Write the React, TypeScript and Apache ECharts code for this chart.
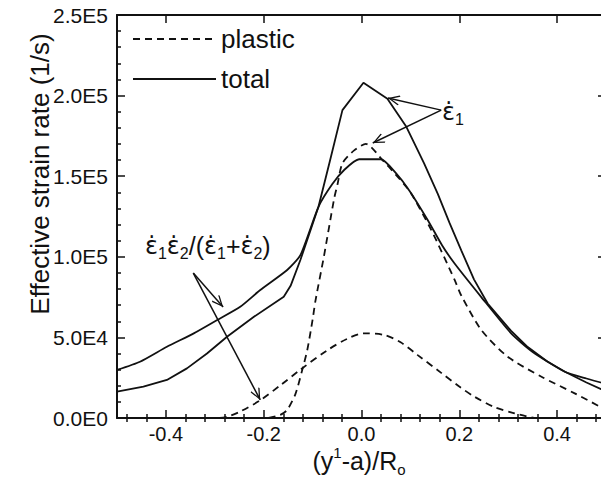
import React, { useEffect, useRef } from 'react';
import * as echarts from 'echarts';

// ---- tick values and labels ----
const xTicks = [-0.4, -0.2, 0, 0.2, 0.4];
const xTickLabels = ['-0.4', '-0.2', '0.0', '0.2', '0.4'];
const xMinorTicks = [-0.48, -0.44, -0.36, -0.32, -0.28, -0.24, -0.16, -0.12, -0.08, -0.04,
  0.04, 0.08, 0.12, 0.16, 0.24, 0.28, 0.32, 0.36, 0.44, 0.48];
const yTicks = [0, 50000, 100000, 150000, 200000, 250000];
const yTickLabels = ['0.0E0', '5.0E4', '1.0E5', '1.5E5', '2.0E5', '2.5E5'];

// ---- series: epsilon_1, total (solid, sharp peak) ----
const e1TotalX = [-0.5, -0.446, -0.398, -0.357, -0.316, -0.275, -0.22, -0.159, -0.145, -0.125, -0.088,
  -0.065, -0.039, 0.004, 0.053, 0.091, 0.128, 0.156, 0.18, 0.204, 0.23, 0.258, 0.306, 0.34, 0.38, 0.416, 0.46, 0.5];
const e1TotalY = [16300, 19400, 23600, 30800, 40000, 50400, 62800, 75200, 82000, 98000, 131000,
  159000, 191000, 208000, 198000, 181000, 158000, 139000, 121000, 104000, 86000, 71000, 54000, 44000, 35000, 28700, 22000, 16500];

// ---- series: epsilon_1, plastic (dashed) ----
const e1PlasticX = [-0.19, -0.166, -0.152, -0.135, -0.121, -0.111, -0.1, -0.094, -0.077, -0.056, -0.049,
  -0.039, -0.015, 0.009, 0.043, 0.07, 0.1, 0.142, 0.19, 0.204, 0.245, 0.299, 0.368, 0.436, 0.5];
const e1PlasticY = [0, 1900, 5000, 15000, 30000, 42000, 61000, 73000, 100000, 136000, 145000,
  158000, 166000, 170000, 160000, 151000, 140000, 117000, 86000, 76000, 54600, 38000, 25600, 15300, 5000];

// ---- series: e1*e2/(e1+e2), total (solid, broad) ----
const comboTotalX = [-0.5, -0.453, -0.398, -0.343, -0.295, -0.248, -0.207, -0.152, -0.125, -0.088, -0.06,
  -0.035, -0.005, 0.04, 0.07, 0.098, 0.135, 0.165, 0.19, 0.245, 0.306, 0.35, 0.416, 0.46, 0.5];
const comboTotalY = [29800, 34900, 44200, 52500, 60800, 69000, 79400, 91800, 101000, 131000, 145000,
  154000, 160500, 160500, 152000, 141000, 123000, 107000, 96000, 75000, 52500, 41000, 28700, 24500, 21200];

// ---- series: e1*e2/(e1+e2), plastic (dashed, low) ----
const comboPlasticX = [-0.29, -0.27, -0.248, -0.207, -0.165, -0.125, -0.07, -0.03, 0.005, 0.046, 0.08,
  0.115, 0.163, 0.2, 0.231, 0.27, 0.313, 0.353];
const comboPlasticY = [0, 1200, 4000, 11000, 20500, 30000, 42000, 49000, 52500, 51500, 47000,
  39000, 28000, 19500, 13200, 7000, 2900, 0];

// ---- annotation arrows (data coordinates) ----
const e1ArrowFrom = [0.163, 191000];
const e1ArrowTo = [[0.054, 198500], [0.023, 170600]];
const comboArrowFrom = [-0.344, 89900];
const comboArrowTo = [[-0.283, 68900], [-0.207, 11200]];

const INK = '#111';
const FONT = 'Liberation Sans, Arial, Helvetica, sans-serif';
const GREEK = 'DejaVu Sans, Liberation Sans, sans-serif';
const DASH = [7, 5];
const ARROW = 'path://M6,-12 L6.02,-11.98 L5.98,-11.98 Z M6,0 L12,11 L10.8,12 L6,3 L1.2,12 L0,11 Z';

const zip = (xs: number[], ys: number[]) => xs.map((x, i) => [x, ys[i]]);

export default function App() {
  const ref = useRef<HTMLDivElement>(null);
  useEffect(() => {
    if (!ref.current) return;
    const chart = echarts.init(ref.current, undefined, { renderer: 'svg' });

    const arrowLines = (from: number[], tos: number[][]) =>
      tos.map((to) => [
        { coord: from, symbol: 'none' },
        { coord: to, symbol: ARROW, symbolSize: [10, 24] },
      ]);

    const xAxisBase = {
      type: 'value',
      min: -0.5,
      max: 0.5,
      splitLine: { show: false },
    };
    const yAxisBase = {
      type: 'value',
      min: 0,
      max: 250000,
      interval: 50000,
      splitLine: { show: false },
    };

    const epsRich = {
      e: { fontSize: 24, lineHeight: 30, fontFamily: GREEK, fill: INK },
      t: { fontSize: 25, lineHeight: 30, fontFamily: FONT, fill: INK },
      s: { fontSize: 16, lineHeight: 16, verticalAlign: 'bottom', fontFamily: FONT, fill: INK },
    };

    const option: any = {
      animation: false,
      backgroundColor: '#fff',
      textStyle: { fontFamily: FONT, color: INK },
      grid: { left: 117, top: 15, right: 14, bottom: 61, outerBoundsMode: 'none', containLabel: false },
      legend: {
        data: ['plastic', 'total'],
        orient: 'vertical',
        left: 132,
        top: 25,
        itemWidth: 83,
        itemHeight: 14,
        itemGap: 12,
        padding: 0,
        selectedMode: false,
        itemStyle: { opacity: 0 },
        textStyle: { fontSize: 26, lineHeight: 28, color: INK, fontFamily: FONT },
      },
      xAxis: [
        {
          ...xAxisBase,
          position: 'bottom',
          axisLine: { show: true, onZero: false, lineStyle: { color: INK, width: 2 } },
          axisTick: { show: true, inside: true, length: 8, customValues: xTicks, lineStyle: { color: INK, width: 1.5 } },
          axisLabel: {
            show: true,
            customValues: xTicks,
            formatter: (v: number) => {
              const i = xTicks.findIndex((t) => Math.abs(t - v) < 1e-9);
              return i >= 0 ? xTickLabels[i] : '';
            },
            fontSize: 20,
            color: INK,
            fontFamily: FONT,
            margin: 6,
          },
        },
        {
          ...xAxisBase,
          position: 'bottom',
          axisLine: { show: false },
          axisTick: { show: true, inside: true, length: 4, customValues: xMinorTicks, lineStyle: { color: INK, width: 1.5 } },
          axisLabel: { show: false },
        },
        {
          ...xAxisBase,
          position: 'top',
          axisLine: { show: true, onZero: false, lineStyle: { color: INK, width: 2 } },
          axisTick: { show: true, inside: true, length: 8, customValues: xTicks, lineStyle: { color: INK, width: 1.5 } },
          axisLabel: { show: false },
        },
        {
          ...xAxisBase,
          position: 'top',
          axisLine: { show: false },
          axisTick: { show: true, inside: true, length: 4, customValues: xMinorTicks, lineStyle: { color: INK, width: 1.5 } },
          axisLabel: { show: false },
        },
      ],
      yAxis: [
        {
          ...yAxisBase,
          position: 'left',
          axisLine: { show: true, onZero: false, lineStyle: { color: INK, width: 2 } },
          axisTick: { show: true, inside: true, length: 8, lineStyle: { color: INK, width: 1.5 } },
          minorTick: { show: true, splitNumber: 5, length: 4, lineStyle: { color: INK, width: 1.5 } },
          minorSplitLine: { show: false },
          axisLabel: {
            formatter: (v: number) => {
              const i = yTicks.indexOf(v);
              return i >= 0 ? yTickLabels[i] : '';
            },
            fontSize: 21,
            color: INK,
            fontFamily: FONT,
            margin: 9,
          },
        },
        {
          ...yAxisBase,
          position: 'right',
          axisLine: { show: true, onZero: false, lineStyle: { color: INK, width: 2 } },
          axisTick: { show: true, inside: true, length: 8, lineStyle: { color: INK, width: 1.5 } },
          minorTick: { show: true, splitNumber: 5, length: 4, lineStyle: { color: INK, width: 1.5 } },
          minorSplitLine: { show: false },
          axisLabel: { show: false },
        },
      ],
      series: [
        {
          name: 'plastic',
          type: 'line',
          data: zip(e1PlasticX, e1PlasticY),
          showSymbol: false,
          symbol: 'none',
          smooth: 0.25,
          lineStyle: { color: INK, width: 1.8, type: DASH },
          itemStyle: { color: INK },
        },
        {
          name: 'total',
          type: 'line',
          data: zip(e1TotalX, e1TotalY),
          showSymbol: false,
          symbol: 'none',
          smooth: false,
          lineStyle: { color: INK, width: 1.8, type: 'solid' },
          itemStyle: { color: INK },
          markLine: {
            silent: true,
            animation: false,
            symbol: ['none', ARROW],
            label: { show: false },
            lineStyle: { color: INK, width: 1.5, type: 'solid' },
            data: [...arrowLines(e1ArrowFrom, e1ArrowTo), ...arrowLines(comboArrowFrom, comboArrowTo)],
          },
        },
        {
          name: 'total',
          type: 'line',
          data: zip(comboTotalX, comboTotalY),
          showSymbol: false,
          symbol: 'none',
          smooth: 0.2,
          lineStyle: { color: INK, width: 1.8, type: 'solid' },
          itemStyle: { color: INK },
        },
        {
          name: 'plastic',
          type: 'line',
          data: zip(comboPlasticX, comboPlasticY),
          showSymbol: false,
          symbol: 'none',
          smooth: 0.3,
          lineStyle: { color: INK, width: 1.8, type: DASH },
          itemStyle: { color: INK },
        },
      ],
      graphic: [
        {
          type: 'text',
          x: 40,
          y: 174,
          rotation: Math.PI / 2,
          style: {
            text: 'Effective strain rate (1/s)',
            fontSize: 26,
            fontFamily: FONT,
            fill: INK,
            textAlign: 'center',
            textVerticalAlign: 'middle',
          },
        },
        {
          type: 'text',
          x: 359,
          y: 461,
          style: {
            text: '{n|(y}{sup|1}{n|-a)/R}{sub|o}',
            textAlign: 'center',
            textVerticalAlign: 'middle',
            fill: INK,
            fontFamily: FONT,
            rich: {
              n: { fontSize: 25, lineHeight: 32, fontFamily: FONT, fill: INK },
              sup: { fontSize: 15, lineHeight: 20, verticalAlign: 'top', fontFamily: FONT, fill: INK },
              sub: { fontSize: 15, lineHeight: 18, verticalAlign: 'bottom', fontFamily: FONT, fill: INK },
            },
          },
        },
        {
          type: 'text',
          x: 442,
          y: 112,
          style: {
            text: '{e|ε\u0307}{s|1}',
            textAlign: 'left',
            textVerticalAlign: 'middle',
            fill: INK,
            fontFamily: FONT,
            rich: epsRich,
          },
        },
        {
          type: 'text',
          x: 145,
          y: 246,
          style: {
            text: '{e|ε\u0307}{s|1}{e|ε\u0307}{s|2}{t|/(}{e|ε\u0307}{s|1}{t|+}{e|ε\u0307}{s|2}{t|)}',
            textAlign: 'left',
            textVerticalAlign: 'middle',
            fill: INK,
            fontFamily: FONT,
            rich: epsRich,
          },
        },
      ],
    };

    chart.setOption(option);
    return () => chart.dispose();
  }, []);

  return (
    <div
      ref={ref}
      style={{ position: 'fixed', left: 0, top: 0, width: 620, height: 479, background: '#fff' }}
    />
  );
}
